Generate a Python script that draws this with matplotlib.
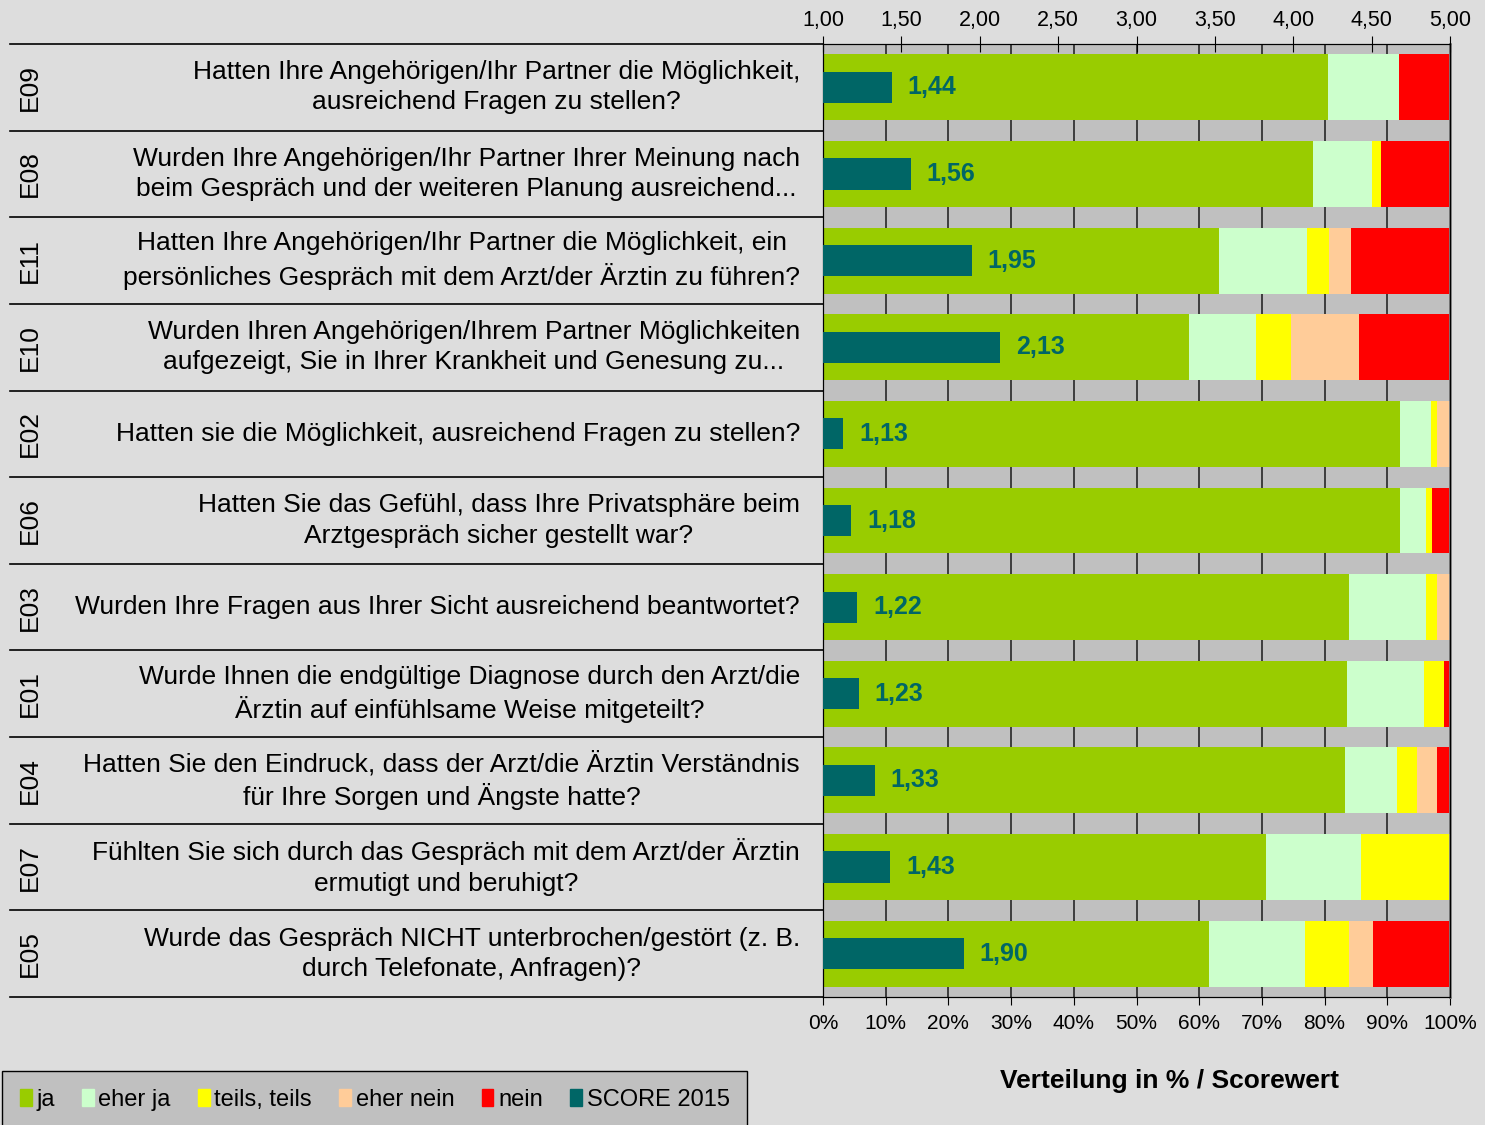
import numpy as np
import matplotlib
matplotlib.use("Agg")
import matplotlib.pyplot as plt
from matplotlib.patches import Patch

plt.rcParams['font.family'] = ['Liberation Sans', 'DejaVu Sans']

# rows from top to bottom
codes = ["E09", "E08", "E11", "E10", "E02", "E06", "E03", "E01", "E04", "E07", "E05"]
questions = [
    "Hatten Ihre Angehörigen/Ihr Partner die Möglichkeit,\nausreichend Fragen zu stellen?",
    "Wurden Ihre Angehörigen/Ihr Partner Ihrer Meinung nach\nbeim Gespräch und der weiteren Planung ausreichend...",
    "Hatten Ihre Angehörigen/Ihr Partner die Möglichkeit, ein\npersönliches Gespräch mit dem Arzt/der Ärztin zu führen?",
    "Wurden Ihren Angehörigen/Ihrem Partner Möglichkeiten\naufgezeigt, Sie in Ihrer Krankheit und Genesung zu...",
    "Hatten sie die Möglichkeit, ausreichend Fragen zu stellen?",
    "Hatten Sie das Gefühl, dass Ihre Privatsphäre beim\nArztgespräch sicher gestellt war?",
    "Wurden Ihre Fragen aus Ihrer Sicht ausreichend beantwortet?",
    "Wurde Ihnen die endgültige Diagnose durch den Arzt/die\nÄrztin auf einfühlsame Weise mitgeteilt?",
    "Hatten Sie den Eindruck, dass der Arzt/die Ärztin Verständnis\nfür Ihre Sorgen und Ängste hatte?",
    "Fühlten Sie sich durch das Gespräch mit dem Arzt/der Ärztin\nermutigt und beruhigt?",
    "Wurde das Gespräch NICHT unterbrochen/gestört (z. B.\ndurch Telefonate, Anfragen)?",
]
ja        = [80.5, 78.1, 63.2, 58.3, 92.0, 92.0, 83.9, 83.5, 83.2, 70.7, 61.6]
eher_ja   = [11.4,  9.5, 14.0, 10.8,  5.0,  4.1, 12.2, 12.4,  8.4, 15.1, 15.3]
teils     = [ 0.0,  1.4,  3.5,  5.6,  1.0,  1.0,  1.9,  3.1,  3.1, 14.2,  7.0]
eher_nein = [ 0.0,  0.0,  3.5, 10.8,  2.0,  0.0,  2.0,  0.0,  3.2,  0.0,  3.8]
nein      = [ 8.1, 11.0, 15.8, 14.5,  0.0,  2.9,  0.0,  1.0,  2.1,  0.0, 12.3]
score     = [1.44, 1.56, 1.95, 2.13, 1.13, 1.18, 1.22, 1.23, 1.33, 1.43, 1.90]

series = [ja, eher_ja, teils, eher_nein, nein]
names = ["ja", "eher ja", "teils, teils", "eher nein", "nein"]
colors = ["#99cc00", "#ccffcc", "#ffff00", "#ffcc99", "#ff0000"]
teal = "#006666"

fig = plt.figure(figsize=(14.85, 11.25), dpi=100, facecolor="#dddddd")
ax = fig.add_axes([823/1485, 1-997/1125, 627/1485, 953/1125])
ax.set_facecolor("#c0c0c0")

y = np.arange(len(codes))
left = np.zeros(len(codes))
for vals, nm, c in zip(series, names, colors):
    ax.barh(y, vals, left=left, height=0.76, color=c, zorder=2)
    left += np.array(vals)

ax.set_xlim(0, 100)
ax.set_ylim(len(codes) - 0.5, -0.5)
ax.set_xticks(np.arange(0, 101, 10))
ax.set_xticklabels([f"{v}%" for v in range(0, 101, 10)], fontsize=15)
ax.tick_params(axis="x", direction="out", length=6, color="black", pad=6)
ax.set_yticks([])
ax.grid(axis="x", color="#333333", linewidth=1.3, zorder=1)
ax.set_axisbelow(True)
for s in ["left", "bottom", "top"]:
    ax.spines[s].set_color("black")
ax.spines["right"].set_color("#808080")
ax.spines["right"].set_linewidth(2)

# score axis on top
ax2 = ax.twiny()
ax2.set_xlim(1, 5)
ax2.barh(y, np.array(score) - 1, left=1, height=0.36, color=teal, zorder=3)
for yi, s in zip(y, score):
    ax2.text(s + 0.1, yi, f"{s:.2f}".replace(".", ","), va="center", ha="left",
             fontsize=18, fontweight="bold", color=teal, zorder=4)
ticks2 = np.arange(1, 5.01, 0.5)
ax2.set_xticks(ticks2)
ax2.set_xticklabels([f"{t:.2f}".replace(".", ",") for t in ticks2], fontsize=15.5)
ax2.tick_params(axis="x", direction="inout", length=12, pad=3.5)
ax2.set_ylim(len(codes) - 0.5, -0.5)

# left category area
trans = ax.get_yaxis_transform()
x_line = (10 - 823) / 627
for b in np.arange(-0.5, len(codes), 1.0):
    ax.plot([x_line, 0], [b, b], transform=trans, color="black", linewidth=1.2,
            clip_on=False, zorder=5)
for yi, code, q in zip(y, codes, questions):
    ax.text((30 - 823) / 627, yi, code, transform=trans, rotation=90,
            va="center", ha="center", fontsize=19)
    ax.text((800 - 823) / 627, yi, q, transform=trans, va="center", ha="right",
            multialignment="center", fontsize=19, linespacing=1.33)

fig.text(1169/1485, 1-1081/1125, "Verteilung in % / Scorewert", ha="center",
         va="center", fontsize=19, fontweight="bold")

handles = [Patch(color=c, label=n) for c, n in zip(colors, names)]
handles.append(Patch(color=teal, label="SCORE 2015"))
leg = fig.legend(handles=handles, loc="lower left", bbox_to_anchor=(2/1485, -0.003),
                 ncol=6, fontsize=17, frameon=True, fancybox=False,
                 handlelength=0.5, handleheight=0.7, handletextpad=0.2,
                 columnspacing=1.15, borderpad=0.75, borderaxespad=0)
leg.get_frame().set_facecolor("#c0c0c0")
leg.get_frame().set_edgecolor("black")
leg.get_frame().set_alpha(1)

fig.savefig("out.png", dpi=100, facecolor=fig.get_facecolor())
